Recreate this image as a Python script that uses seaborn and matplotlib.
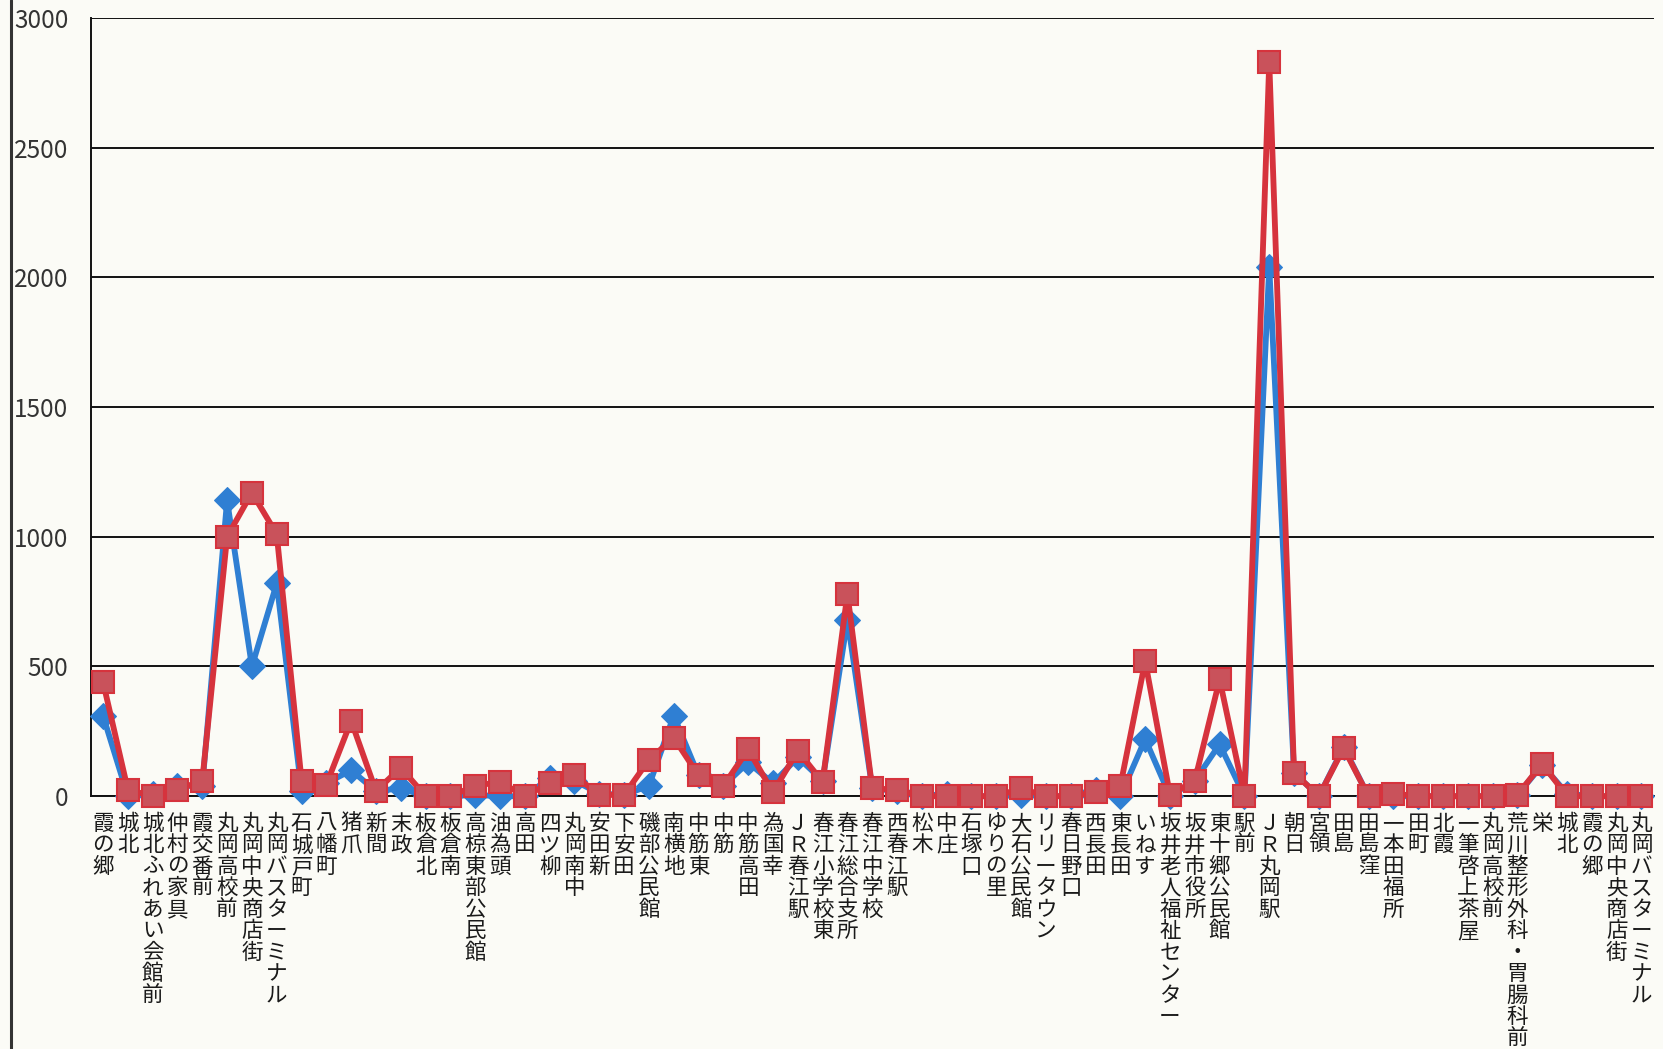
import numpy as np
import pandas as pd
import matplotlib
matplotlib.use("Agg")
import matplotlib.pyplot as plt
from matplotlib.lines import Line2D
from matplotlib.ticker import MultipleLocator
import seaborn as sns

stops = [
    "霞の郷", "城北", "城北ふれあい会館前", "仲村の家具", "霞交番前",
    "丸岡高校前", "丸岡中央商店街", "丸岡バスターミナル", "石城戸町", "八幡町",
    "猪爪", "新間", "末政", "板倉北", "板倉南",
    "高椋東部公民館", "油為頭", "高田", "四ツ柳", "丸岡南中",
    "安田新", "下安田", "磯部公民館", "南横地", "中筋東",
    "中筋", "中筋高田", "為国幸", "ＪＲ春江駅", "春江小学校東",
    "春江総合支所", "春江中学校", "西春江駅", "松木", "中庄",
    "石塚口", "ゆりの里", "大石公民館", "リリータウン", "春日野口",
    "西長田", "東長田", "いねす", "坂井老人福祉センター", "坂井市役所",
    "東十郷公民館", "駅前", "ＪＲ丸岡駅", "朝日", "宮領",
    "田島", "田島窪", "一本田福所", "田町", "北霞",
    "一筆啓上茶屋", "丸岡高校前", "荒川整形外科・胃腸科前", "栄", "城北",
    "霞の郷", "丸岡中央商店街", "丸岡バスターミナル",
]

series_blue = [
    310, 0, 10, 40, 40,
    1140, 500, 820, 20, 50,
    100, 20, 30, 0, 0,
    5, 0, 0, 70, 60,
    10, 5, 40, 310, 80,
    40, 130, 50, 150, 60,
    680, 30, 20, 0, 10,
    0, 0, 5, 0, 0,
    25, 0, 220, 0, 60,
    200, 0, 2040, 90, 0,
    190, 0, 0, 0, 0,
    0, 0, 5, 120, 10,
    0, 0, 0,
]

series_red = [
    440, 25, 0, 25, 60,
    1000, 1170, 1010, 60, 45,
    290, 20, 110, 0, 0,
    40, 55, 0, 50, 80,
    5, 5, 140, 225, 80,
    40, 180, 15, 175, 55,
    780, 30, 25, 0, 0,
    0, 0, 30, 0, 0,
    15, 40, 520, 5, 60,
    450, 0, 2830, 90, 0,
    185, 0, 10, 0, 0,
    0, 0, 5, 125, 0,
    0, 0, 0,
]

y_ticks = [0, 500, 1000, 1500, 2000, 2500, 3000]

blue = "#2f7fd3"
red = "#d6333d"
square_face = "#c9525b"
paper = "#fbfbf6"

sns.set_style("white")
plt.rcParams['font.family'] = ['Noto Sans CJK JP', 'DejaVu Sans']

pos = np.arange(len(stops))
df = pd.DataFrame({"pos": pos, "blue": series_blue, "red": series_red})

fig = plt.figure(figsize=(16.63, 10.49), dpi=100, facecolor=paper)
ax = fig.add_axes([0.0545, 0.241, 0.94, 0.742])
ax.set_facecolor(paper)

sns.lineplot(data=df, x="pos", y="blue", ax=ax, color=blue, lw=4.2,
             marker="D", markersize=13, markerfacecolor=blue,
             markeredgecolor=blue, clip_on=False, zorder=3)
sns.lineplot(data=df, x="pos", y="red", ax=ax, color=red, lw=4.2,
             marker="s", markersize=15.5, markerfacecolor=square_face,
             markeredgecolor=red, markeredgewidth=1.5, clip_on=False, zorder=4)

ax.set_xlim(-0.5, len(stops) - 0.5)
ax.set_ylim(0, 3000)
ax.set_yticks(y_ticks)
ax.set_yticklabels([str(t) for t in y_ticks], fontsize=17.5, color="#333333")
ax.yaxis.grid(True, color="#111111", lw=1.4)
ax.set_axisbelow(True)

ax.set_xticks(pos)
ax.set_xticklabels(["\n".join(s) for s in stops], fontsize=15.5,
                   linespacing=0.97, va="top", color="#1a1a1a")
ax.xaxis.set_minor_locator(MultipleLocator(1, offset=0.5))
ax.tick_params(axis="x", which="major", length=0, pad=12)
ax.tick_params(axis="x", which="minor", length=7, width=1.2, color="#111111", direction="out")
ax.tick_params(axis="y", length=6, width=1.2, color="#111111", pad=10, direction="out")
ax.set_xlabel("")
ax.set_ylabel("")

for side in ["top", "right"]:
    ax.spines[side].set_visible(False)
for side in ["left", "bottom"]:
    ax.spines[side].set_color("#111111")
    ax.spines[side].set_linewidth(1.4)

# border line of the chart frame on the far left
fig.add_artist(Line2D([0.0065, 0.0065], [0.0, 1.0], transform=fig.transFigure,
                      color="#333333", lw=2.2))

fig.savefig("out.png", dpi=100, facecolor=paper)
